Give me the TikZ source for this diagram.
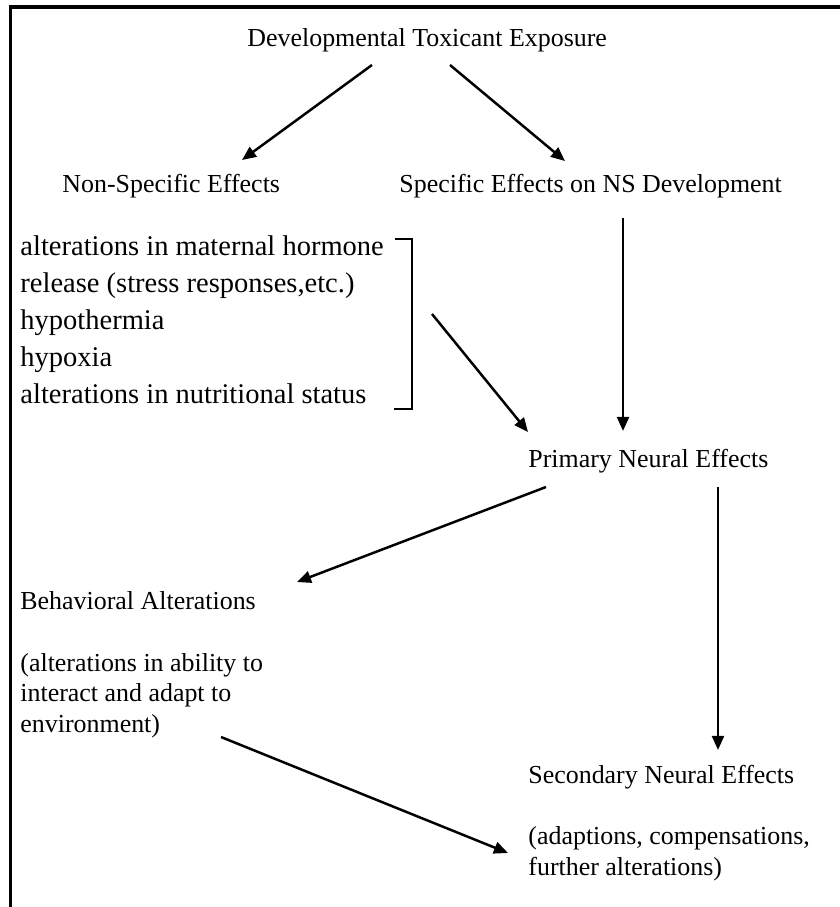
\documentclass[tikz,border=0pt]{standalone}
\usepackage{fontspec}
\setmainfont{Liberation Serif}
\usetikzlibrary{arrows.meta}

\begin{document}
\begin{tikzpicture}[x=0.463pt, y=-0.463pt,
	txt/.style={anchor=base west, inner sep=0pt, align=left, font=\fontsize{12}{14.1}\selectfont},
	bigtxt/.style={txt, font=\fontsize{13.2}{17.1}\selectfont},
	arr/.style={line width=1.15pt, -{Triangle[length=6.5pt,width=5.5pt]}}]
	% page size
	\useasboundingbox (0,0) rectangle (840,907);

	% draw frame (only top and left edge show)
	\draw[line width=1.4pt] (840,7) -- (10.5,7) -- (10.5,907);

	% draw texts (base = baseline of the last line)
	\node (dev) [txt] at (247,46) {Developmental Toxicant Exposure};
	\node (nonspec) [txt] at (62,192) {Non-Specific Effects};
	\node (spec) [txt] at (399,192) {Specific Effects on NS Development};
	\node (causes) [bigtxt] at (20,403) {alterations in maternal hormone\\release (stress responses,etc.)\\hypothermia\\hypoxia\\alterations in nutritional status};
	\node (primary) [txt] at (528,467) {Primary Neural Effects};
	\node (behav) [txt] at (20,609) {Behavioral Alterations};
	\node (behavnote) [txt] at (20,732) {(alterations in ability to\\interact and adapt to\\environment)};
	\node (second) [txt] at (528,783) {Secondary Neural Effects};
	\node (secondnote) [txt] at (528,875) {(adaptions, compensations,\\further alterations)};

	% draw bracket
	\draw[line width=1pt] (395,239) -- (412,239) -- (412,409) -- (394,409);

	% arrow end points
	\coordinate (a1) at (372,65);
	\coordinate (a2) at (450,65);
	\coordinate (t1) at (242,160);
	\coordinate (t2) at (565,161);
	\coordinate (b1) at (432,314);
	\coordinate (v1) at (623,218);
	\coordinate (t3) at (528,432);
	\coordinate (t4) at (623,431);
	\coordinate (p1) at (546,487);
	\coordinate (p2) at (718,487);
	\coordinate (t5) at (297,582);
	\coordinate (t6) at (718,750);
	\coordinate (e1) at (221,737);
	\coordinate (t7) at (508,853);

	% draw arrows
	\draw[arr] (a1) -- (t1);
	\draw[arr] (a2) -- (t2);
	\draw[arr] (b1) -- (t3);
	\draw[arr] (v1) -- (t4);
	\draw[arr] (p1) -- (t5);
	\draw[arr] (p2) -- (t6);
	\draw[arr] (e1) -- (t7);

\end{tikzpicture}
\end{document}
